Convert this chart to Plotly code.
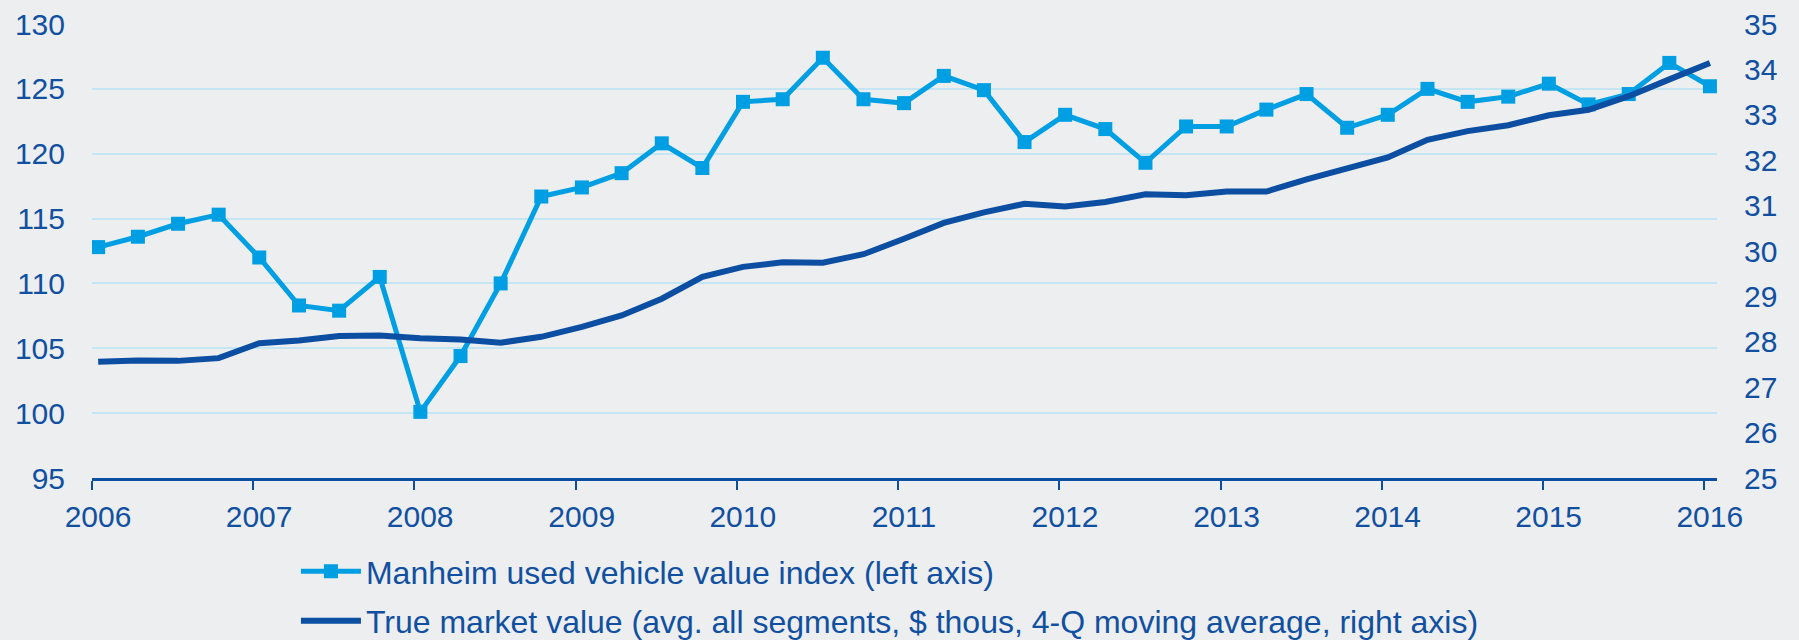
import pandas as pd
import plotly.graph_objects as go

# Quarterly observations, 2006Q1 - 2016Q1
quarters = pd.date_range("2006-01-01", periods=41, freq="QS") + pd.Timedelta(days=14)

manheim = [112.8, 113.6, 114.6, 115.3, 112.0, 108.3, 107.9, 110.5,
           100.1, 104.4, 110.0, 116.7, 117.4, 118.5, 120.8, 118.9,
           124.0, 124.2, 127.4, 124.2, 123.9, 126.0, 124.9, 120.9,
           123.0, 121.9, 119.3, 122.1, 122.1, 123.4, 124.6, 122.0,
           123.0, 125.0, 124.0, 124.4, 125.4, 123.8, 124.6, 127.0, 125.2]

true_market = [27.56, 27.59, 27.58, 27.64, 27.97, 28.03, 28.13, 28.14,
               28.08, 28.05, 27.98, 28.11, 28.33, 28.58, 28.95, 29.43,
               29.65, 29.75, 29.74, 29.93, 30.27, 30.62, 30.85, 31.04,
               30.98, 31.08, 31.25, 31.23, 31.31, 31.31, 31.58, 31.83,
               32.06, 32.45, 32.64, 32.77, 32.99, 33.11, 33.41, 33.78, 34.14]

left_ticks = [95, 100, 105, 110, 115, 120, 125, 130]
right_ticks = list(range(25, 36))
year_ticks = list(range(2006, 2017))

TXT = "#1150A0"
LIGHT = "#009FE3"
DARK = "#0B4EA2"
BG = "#ECEEF0"
GRID = "#C4E5F4"
FONT = "Liberation Sans, Arial, sans-serif"

fig = go.Figure()
fig.add_trace(go.Scatter(
    x=quarters, y=manheim, name="Manheim used vehicle value index (left axis)",
    mode="lines+markers", line=dict(color=LIGHT, width=5),
    marker=dict(symbol="square", size=14, color=LIGHT),
    legendgroup="a", yaxis="y"))
fig.add_trace(go.Scatter(
    x=quarters, y=true_market,
    name="True market value (avg. all segments, $ thous, 4-Q moving average, right axis)",
    mode="lines", line=dict(color=DARK, width=6),
    legendgroup="b", yaxis="y2"))

fig.update_layout(
    width=1799, height=640,
    paper_bgcolor=BG, plot_bgcolor=BG,
    font=dict(family=FONT, size=30, color=TXT),
    margin=dict(l=92, r=82, t=24, b=162, autoexpand=False),
    showlegend=True,
    legend=dict(x=0.1255, xanchor="left", y=-0.145, yanchor="top",
                orientation="v", bgcolor="rgba(0,0,0,0)",
                font=dict(family=FONT, size=32, color=TXT),
                itemwidth=60, tracegroupgap=5, traceorder="grouped"),
    xaxis=dict(type="date", range=["2006-01-01", "2016-01-31"],
               tickvals=[f"{y}-01-01" for y in year_ticks],
               ticktext=[str(y) for y in year_ticks],
               ticks="outside", ticklen=9, tickwidth=2, tickcolor=DARK,
               ticklabelshift=6, ticklabelstandoff=1,
               showline=True, linecolor=DARK, linewidth=3,
               showgrid=False, zeroline=False,
               tickfont=dict(family=FONT, size=30, color=TXT)),
    yaxis=dict(range=[95, 130], tickvals=left_ticks,
               showgrid=True, gridcolor=GRID, gridwidth=2,
               zeroline=False, showline=False, ticks="",
               ticklabelstandoff=26,
               tickfont=dict(family=FONT, size=30, color=TXT)),
    yaxis2=dict(range=[25, 35], tickvals=right_ticks, overlaying="y", side="right",
                showgrid=False, zeroline=False, showline=False, ticks="",
                ticklabelstandoff=26,
                tickfont=dict(family=FONT, size=30, color=TXT)),
)

fig.write_html("out.html", config={"displayModeBar": False},
               post_script="document.body.style.margin='0';document.body.style.background='#ECEEF0';")
